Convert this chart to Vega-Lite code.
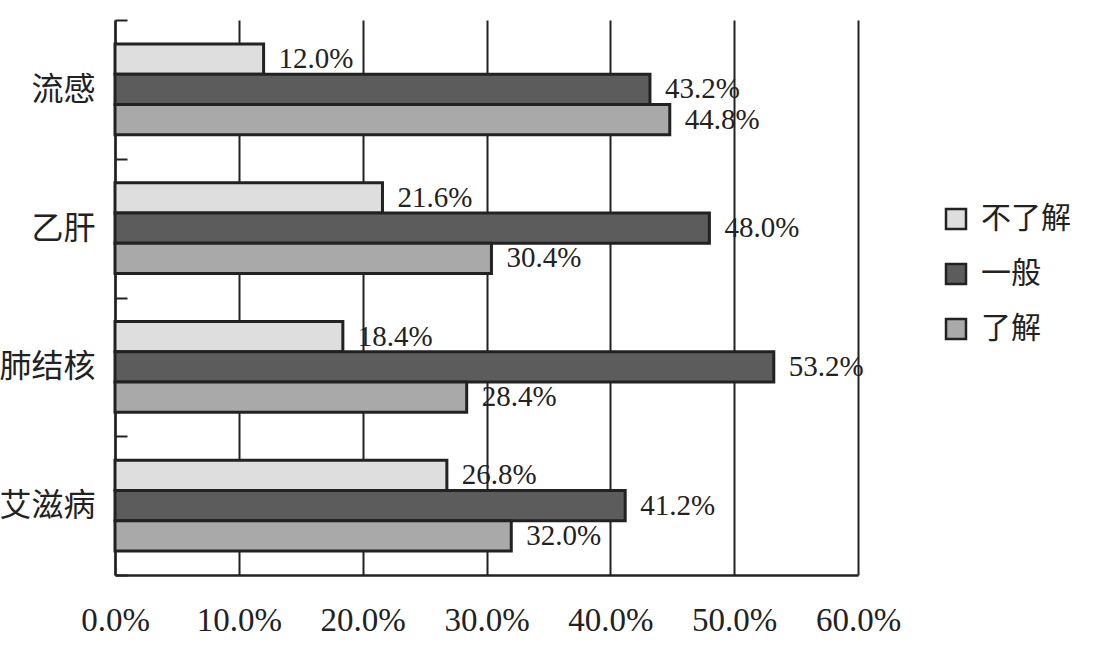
{
  "$schema": "https://vega.github.io/schema/vega-lite/v6.json",
  "autosize": {"type": "none"},
  "padding": {"left": 115, "top": 20, "right": 257, "bottom": 81},
  "width": 743,
  "height": 555,
  "background": "white",
  "config": {"view": {"stroke": null}},
  "data": {"values": [
    {"disease": "流感", "level": "不了解", "value": 0.120},
    {"disease": "流感", "level": "一般", "value": 0.432},
    {"disease": "流感", "level": "了解", "value": 0.448},
    {"disease": "乙肝", "level": "不了解", "value": 0.216},
    {"disease": "乙肝", "level": "一般", "value": 0.480},
    {"disease": "乙肝", "level": "了解", "value": 0.304},
    {"disease": "肺结核", "level": "不了解", "value": 0.184},
    {"disease": "肺结核", "level": "一般", "value": 0.532},
    {"disease": "肺结核", "level": "了解", "value": 0.284},
    {"disease": "艾滋病", "level": "不了解", "value": 0.268},
    {"disease": "艾滋病", "level": "一般", "value": 0.412},
    {"disease": "艾滋病", "level": "了解", "value": 0.320}
  ]},
  "encoding": {
    "y": {"field": "disease", "type": "nominal", "sort": ["流感", "乙肝", "肺结核", "艾滋病"],
      "scale": {"paddingInner": 0, "paddingOuter": 0},
      "axis": {"title": null, "tickBand": "extent", "tickSize": -12, "tickWidth": 2, "tickColor": "#222",
        "domainColor": "#222", "domainWidth": 2.5, "labelFont": "Noto Sans CJK SC", "labelFontSize": 32,
        "labelColor": "#222", "labelPadding": 32, "grid": false}},
    "yOffset": {"field": "level", "type": "nominal", "sort": ["不了解", "一般", "了解"], "scale": {"paddingInner": 0, "paddingOuter": 0.79}},
    "x": {"field": "value", "type": "quantitative", "stack": null,
      "scale": {"domain": [0, 0.6], "nice": false},
      "axis": {"title": null, "values": [0, 0.1, 0.2, 0.3, 0.4, 0.5, 0.6], "format": ".1%", "ticks": false,
        "grid": true, "gridColor": "#222", "gridWidth": 2, "gridOpacity": 1, "labelFlush": false, "labelBound": false,
        "labelOverlap": false,
        "domainColor": "#222", "domainWidth": 2.5, "labelFont": "Liberation Serif", "labelFontSize": 33,
        "labelColor": "#222", "labelPadding": 29}}
  },
  "layer": [
    {
      "mark": {"type": "bar", "stroke": "#222", "strokeWidth": 3, "cornerRadius": 0},
      "encoding": {
        "fill": {"field": "level", "type": "nominal", "sort": ["不了解", "一般", "了解"],
          "scale": {"domain": ["不了解", "一般", "了解"], "range": ["#dedede", "#5c5c5c", "#a9a9a9"]},
          "legend": {"title": null, "orient": "none", "legendX": 826, "legendY": 184,
            "symbolType": "square", "symbolSize": 400, "symbolStrokeColor": "#222", "symbolStrokeWidth": 2.5,
            "symbolOpacity": 1, "labelFont": "Noto Sans CJK SC", "labelFontSize": 30, "labelColor": "#222",
            "labelOffset": 10, "rowPadding": 25}}
      }
    },
    {
      "mark": {"type": "text", "align": "left", "baseline": "middle", "dx": 15, "font": "Liberation Serif", "fontSize": 29, "color": "#222"},
      "encoding": {"text": {"field": "value", "type": "quantitative", "format": ".1%"}}
    }
  ]
}
